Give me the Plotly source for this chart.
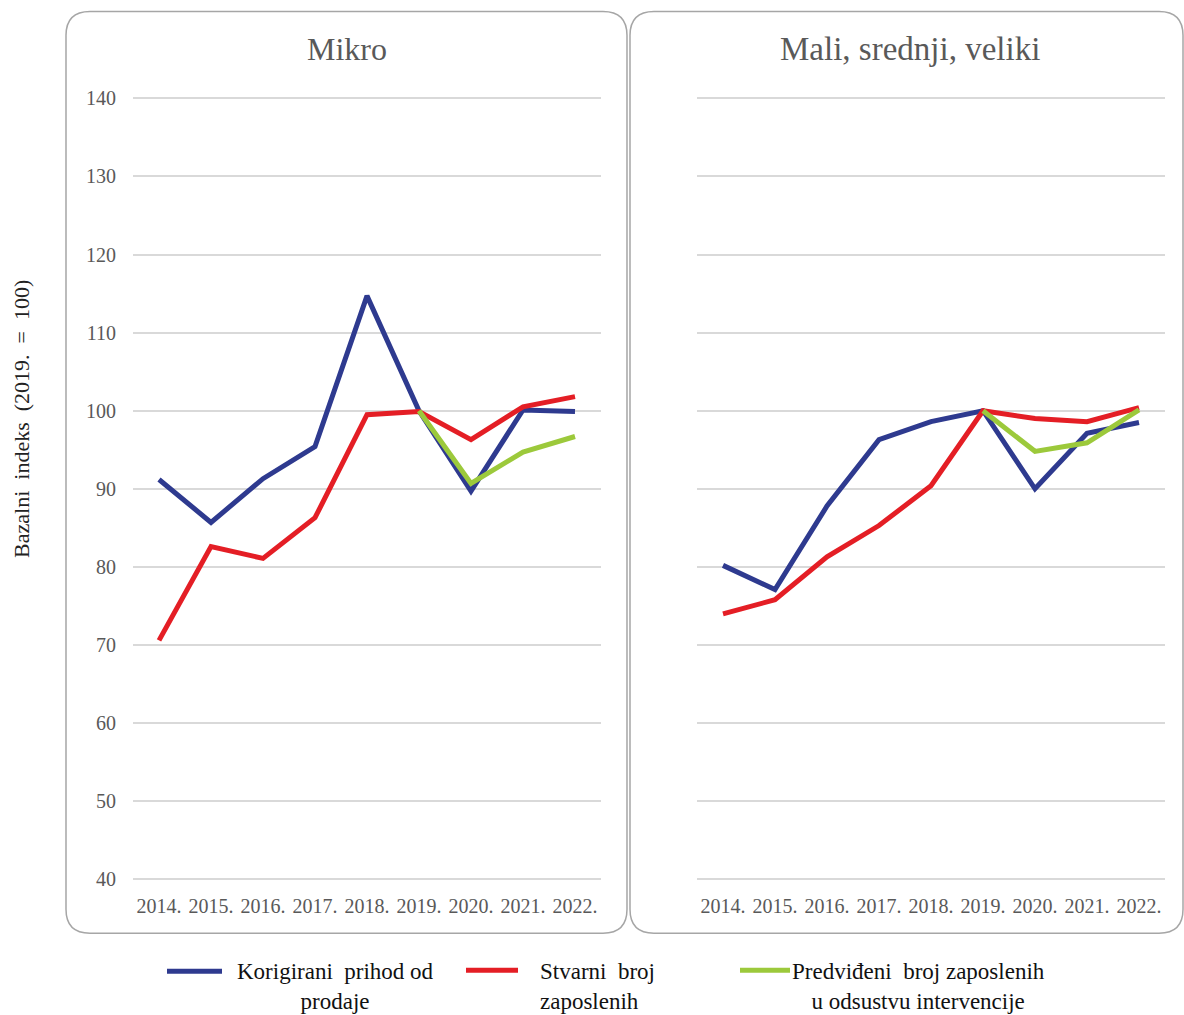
import plotly.graph_objects as go

W, H = 1184, 1015

years = ["2014.", "2015.", "2016.", "2017.", "2018.", "2019.", "2020.", "2021.", "2022."]
pred_years = ["2019.", "2020.", "2021.", "2022."]

# Mikro
mikro_prihod = [91.2, 85.7, 91.3, 95.4, 114.7, 100.0, 89.7, 100.1, 99.9]
mikro_stvarni = [70.6, 82.6, 81.1, 86.3, 99.5, 99.9, 96.3, 100.5, 101.8]
mikro_predvideni = [100.0, 90.7, 94.7, 96.7]

# Mali, srednji, veliki
msv_prihod = [80.2, 77.1, 87.8, 96.3, 98.6, 100.0, 90.0, 97.1, 98.5]
msv_stvarni = [74.0, 75.8, 81.3, 85.3, 90.4, 100.0, 99.0, 98.6, 100.4]
msv_predvideni = [100.0, 94.8, 95.9, 100.1]

panel_titles = ["Mikro", "Mali, srednji, veliki"]
legend_names = ["Korigirani  prihod od<br>prodaje", "Stvarni  broj<br>zaposlenih",
                "Predviđeni  broj zaposlenih<br>u odsustvu intervencije"]
y_title = "Bazalni  indeks  (2019.  =  100)"
y_ticks = [40, 50, 60, 70, 80, 90, 100, 110, 120, 130, 140]

BLUE = "#2E3A8F"
RED = "#E41E25"
GREEN = "#9CC93B"
SERIF = "Liberation Serif"
GREY = "#595959"

# measured vertical mapping of the rendering (pixel = OFF + SCALE * requested pixel)
OFF, SCALE = 7.61, 0.9834


def px(x):
    return x / W


def py(y):
    y_req = (y - OFF) / SCALE
    return 1 - y_req / H


fig = go.Figure()
for xa, ya, prih, stv, pred in [("x", "y", mikro_prihod, mikro_stvarni, mikro_predvideni),
                                ("x2", "y2", msv_prihod, msv_stvarni, msv_predvideni)]:
    fig.add_trace(go.Scatter(x=years, y=prih, mode="lines", line=dict(color=BLUE, width=5),
                             xaxis=xa, yaxis=ya, showlegend=False))
    fig.add_trace(go.Scatter(x=years, y=stv, mode="lines", line=dict(color=RED, width=5),
                             xaxis=xa, yaxis=ya, showlegend=False))
    fig.add_trace(go.Scatter(x=pred_years, y=pred, mode="lines", line=dict(color=GREEN, width=5),
                             xaxis=xa, yaxis=ya, showlegend=False))


def rrect(x0, y0, x1, y1, r):
    pts = [
        ("M", [(x0 + r, y0)]),
        ("L", [(x1 - r, y0)]),
        ("Q", [(x1, y0), (x1, y0 + r)]),
        ("L", [(x1, y1 - r)]),
        ("Q", [(x1, y1), (x1 - r, y1)]),
        ("L", [(x0 + r, y1)]),
        ("Q", [(x0, y1), (x0, y1 - r)]),
        ("L", [(x0, y0 + r)]),
        ("Q", [(x0, y0), (x0 + r, y0)]),
    ]
    s = ""
    for cmd, cs in pts:
        s += cmd + " " + " ".join(f"{px(a):.5f},{py(b):.5f}" for a, b in cs) + " "
    return s + "Z"


shapes = [
    dict(type="path", path=rrect(66, 10, 627, 933, 24), xref="paper", yref="paper",
         line=dict(color="#a6a6a6", width=1.5), layer="below"),
    dict(type="path", path=rrect(630, 10, 1183, 933, 24), xref="paper", yref="paper",
         line=dict(color="#a6a6a6", width=1.5), layer="below"),
]

# legend swatches
for (x0, x1, yy), col in zip([(167, 222, 971), (466, 518, 970), (740, 790, 970)], [BLUE, RED, GREEN]):
    shapes.append(dict(type="line", xref="paper", yref="paper", x0=px(x0), x1=px(x1),
                       y0=py(yy), y1=py(yy), line=dict(color=col, width=5)))

annotations = [
    dict(text=panel_titles[0], x=px(347), y=py(48), xref="paper", yref="paper", showarrow=False,
         font=dict(family=SERIF, size=32, color=GREY), xanchor="center", yanchor="middle"),
    dict(text=panel_titles[1], x=px(910), y=py(48), xref="paper", yref="paper", showarrow=False,
         font=dict(family=SERIF, size=33, color=GREY), xanchor="center", yanchor="middle"),
    dict(text=y_title, x=px(22), y=py(418), xref="paper", yref="paper", showarrow=False,
         textangle=-90, font=dict(family=SERIF, size=22, color="#222222"),
         xanchor="center", yanchor="middle"),
    dict(text=legend_names[0], x=px(335), y=py(986), xref="paper", yref="paper", showarrow=False,
         align="center", font=dict(family=SERIF, size=23, color="#111111"),
         xanchor="center", yanchor="middle"),
    dict(text=legend_names[1], x=px(538), y=py(986), xref="paper", yref="paper", showarrow=False,
         align="left", font=dict(family=SERIF, size=23, color="#111111"),
         xanchor="left", yanchor="middle"),
    dict(text=legend_names[2], x=px(918), y=py(986), xref="paper", yref="paper", showarrow=False,
         align="center", font=dict(family=SERIF, size=23, color="#111111"),
         xanchor="center", yanchor="middle"),
]

# y range slightly padded so the 40 and 140 gridlines are drawn
ypx_per_unit = (879 - 97) / 100.0
pad = 0.3
yr = [40 - pad, 140 + pad]
ydom = [py(879 + pad * ypx_per_unit), py(97 - pad * ypx_per_unit)]
common_y = dict(range=yr, tickvals=y_ticks, showgrid=True, gridcolor="#d9d9d9", gridwidth=2,
                zeroline=False, showline=False, domain=ydom,
                tickfont=dict(family=SERIF, size=20, color=GREY))
common_x = dict(type="category", categoryorder="array", categoryarray=years, range=[-0.5, 8.5],
                showgrid=False, zeroline=False, showline=False,
                tickfont=dict(family=SERIF, size=20, color=GREY), ticklabelstandoff=10)

fig.update_layout(
    width=W, height=H, margin=dict(l=0, r=0, t=0, b=0),
    paper_bgcolor="white", plot_bgcolor="white", showlegend=False,
    xaxis=dict(domain=[px(133), px(601)], anchor="y", **common_x),
    xaxis2=dict(domain=[px(697), px(1165)], anchor="y2", **common_x),
    yaxis=dict(anchor="x", ticklabelstandoff=16, **common_y),
    yaxis2=dict(anchor="x2", showticklabels=False, **common_y),
    shapes=shapes, annotations=annotations,
)

post = (
    "document.documentElement.style.cssText='margin:0;padding:0;overflow:hidden;height:1015px;';"
    "document.body.style.cssText='margin:0;padding:0;overflow:hidden;height:1015px;';"
    "var gd=document.getElementsByClassName('plotly-graph-div')[0];"
    "gd.style.position='absolute';gd.style.top='0px';gd.style.left='0px';"
)

fig.write_html("out.html", config={"displayModeBar": False}, post_script=post)
